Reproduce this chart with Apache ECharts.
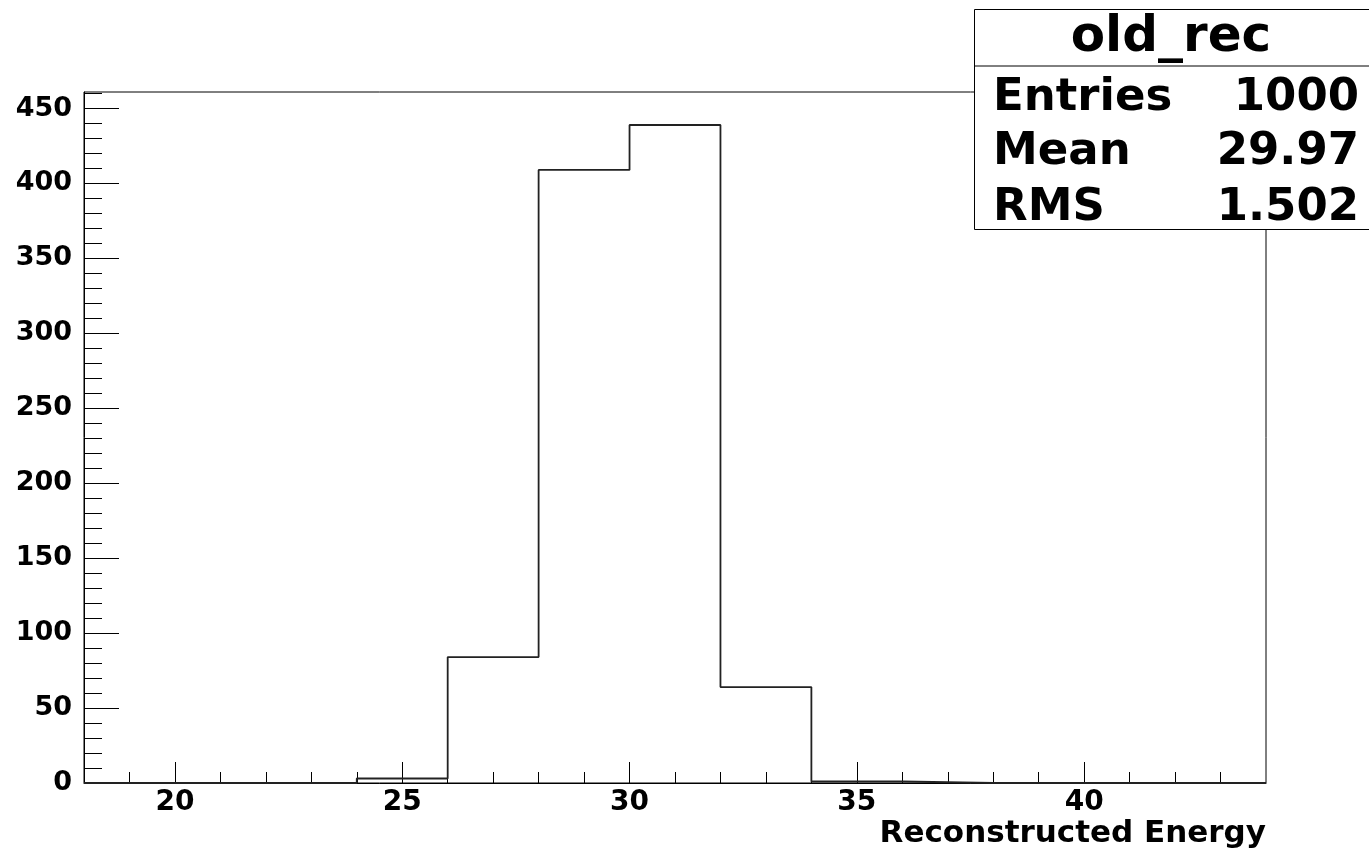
<!DOCTYPE html>
<html>
<head>
<meta charset="utf-8">
<title>old_rec</title>
<script src="https://cdn.jsdelivr.net/npm/echarts@6/dist/echarts.min.js"></script>
<style>
    html, body { margin: 0; padding: 0; background: #fff; }
    #chart { width: 1369px; height: 855px; }
</style>
</head>
<body>
<div id="chart"></div>
<script>
    // histogram bins (width 2) and contents
    const binEdges = [18, 20, 22, 24, 26, 28, 30, 32, 34, 36, 38, 40, 42, 44];
    const counts = [0, 0, 0, 3, 84, 409, 439, 64, 1, 0, 0, 0, 0];

    const xMajor = [20, 25, 30, 35, 40];
    const yMajor = [0, 50, 100, 150, 200, 250, 300, 350, 400, 450];

    const statsTitle = 'old_rec';
    const statsNames = ['Entries', 'Mean', 'RMS'];
    const statsValues = ['1000', '29.97', '1.502'];

    const xMin = 18, xMax = 44, yMax = 461;

    // minor ticks: every 1 on x, every 10 on y
    let xMinor = [];
    for (let v = 19; v < xMax; v++) { if (v % 5 !== 0) xMinor.push(v) }
    let yMinor = [];
    for (let v = 10; v < yMax; v += 10) { if (v % 50 !== 0) yMinor.push(v) }

    // step outline: left edge of each bin + closing point
    let outline = counts.map((c, i) => [binEdges[i], c]);
    outline.push([binEdges[binEdges.length - 1], 0]);

    const font = 'DejaVu Sans';
    let chart = echarts.init(document.getElementById('chart'));

    let statsGraphic = [
        {
            type: 'rect', left: 974, top: 9, z: 100,
            shape: { width: 396, height: 220 },
            style: { fill: '#fff', stroke: '#000', lineWidth: 1 }
        },
        {
            type: 'line', z: 101,
            shape: { x1: 974, y1: 66, x2: 1369, y2: 66 },
            style: { stroke: '#000', lineWidth: 1 }
        },
        {
            type: 'text', x: 1171, y: 38, z: 101,
            style: { text: statsTitle, font: 'bold 50px ' + font, fill: '#000', align: 'center', verticalAlign: 'middle' }
        }
    ];
    const rowY = [98, 152, 208];
    statsNames.forEach((name, i) => {
        statsGraphic.push({
            type: 'text', x: 993, y: rowY[i], z: 101,
            style: { text: name, font: 'bold 45px ' + font, fill: '#000', align: 'left', verticalAlign: 'middle' }
        });
        statsGraphic.push({
            type: 'text', x: 1359, y: rowY[i], z: 101,
            style: { text: statsValues[i], font: 'bold 45px ' + font, fill: '#000', align: 'right', verticalAlign: 'middle' }
        });
    });

    chart.setOption({
        animation: false,
        grid: {
            left: 84, right: 103, top: 92, bottom: 72,
            show: true, borderColor: '#000', borderWidth: 1, backgroundColor: 'transparent'
        },
        xAxis: [{
            type: 'value', min: xMin, max: xMax, position: 'bottom',
            name: 'Reconstructed Energy',
            nameLocation: 'end',
            nameGap: 0,
            nameTextStyle: {
                fontFamily: font, fontWeight: 'bold', fontSize: 31, color: '#000',
                align: 'right', verticalAlign: 'top', padding: [35, 0, 0, 0]
            },
            axisLine: { onZero: false, lineStyle: { color: '#000', width: 1 } },
            axisTick: { inside: true, length: 21, customValues: xMajor, lineStyle: { color: '#000' } },
            axisLabel: { customValues: xMajor, margin: 6, fontFamily: font, fontWeight: 'bold', fontSize: 28, color: '#000' },
            splitLine: { show: false }
        }, {
            type: 'value', min: xMin, max: xMax, position: 'bottom',
            axisLine: { show: false },
            axisTick: { inside: true, length: 11, customValues: xMinor, lineStyle: { color: '#000' } },
            axisLabel: { show: false },
            splitLine: { show: false }
        }],
        yAxis: [{
            type: 'value', min: 0, max: yMax, position: 'left',
            axisLine: { show: true, onZero: false, lineStyle: { color: '#000', width: 1 } },
            axisTick: { show: true, inside: true, length: 35, customValues: yMajor, lineStyle: { color: '#000' } },
            axisLabel: { customValues: yMajor, margin: 12, fontFamily: font, fontWeight: 'bold', fontSize: 27, color: '#000' },
            splitLine: { show: false }
        }, {
            type: 'value', min: 0, max: yMax, position: 'left',
            axisLine: { show: false },
            axisTick: { show: true, inside: true, length: 18, customValues: yMinor, lineStyle: { color: '#000' } },
            axisLabel: { show: false },
            splitLine: { show: false }
        }],
        series: [{
            name: statsTitle,
            type: 'line',
            step: 'end',
            data: outline,
            showSymbol: false,
            lineStyle: { color: '#222', width: 1.8 }
        }],
        graphic: statsGraphic
    });
</script>
</body>
</html>
